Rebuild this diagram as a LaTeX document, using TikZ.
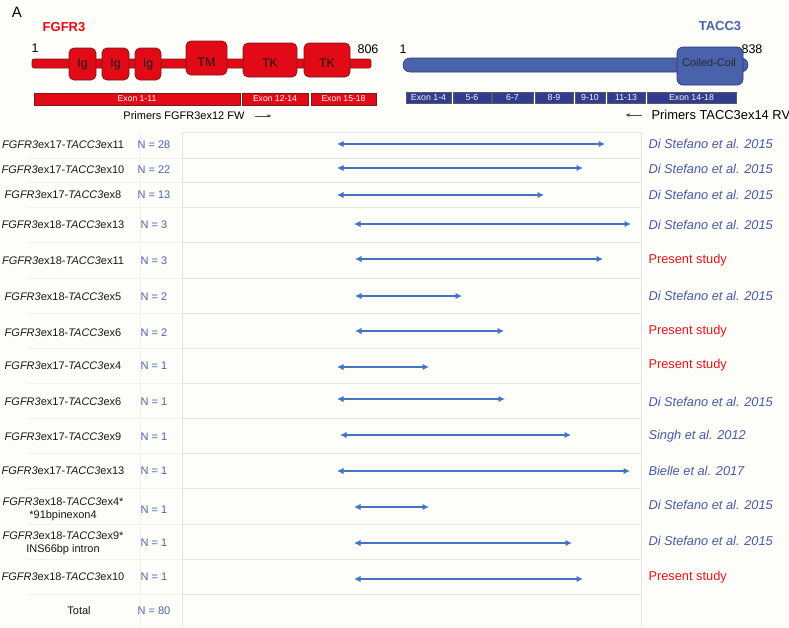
\documentclass[tikz,border=0pt]{standalone}
\usepackage{fontspec}
\setmainfont{Liberation Sans}
\usepackage{tikz}
\usetikzlibrary{arrows.meta}

\definecolor{fgred}{HTML}{E30A17}
\definecolor{fgedge}{HTML}{7A1A1A}
\definecolor{taccblue}{HTML}{4A62AC}
\definecolor{taccedge}{HTML}{2B3A6E}
\definecolor{exonblue}{HTML}{2F3C8F}
\definecolor{arrowblue}{HTML}{4472C4}
\definecolor{nblue}{HTML}{4D63B0}
\definecolor{refblue}{HTML}{4A59A6}
\definecolor{studyred}{HTML}{E8141C}
\definecolor{gridline}{HTML}{E4E4E0}
\definecolor{gridfaint}{HTML}{F1F1ED}
\definecolor{paper}{HTML}{FDFDF9}

\newcommand{\fgfr}{\textit{FGFR3}}
\newcommand{\tacc}{\textit{TACC3}}

\begin{document}
\begin{tikzpicture}[x=1pt,y=-1pt,
  dom/.style={draw=fgedge,fill=fgred,line width=0.7pt,rounded corners=5},
  domlab/.style={font=\fontsize{12.5}{14}\selectfont,text=black!90},
  fgexon/.style={draw=fgedge,fill=fgred,line width=0.5pt,text=white,minimum height=12,inner sep=0pt,font=\fontsize{8.6}{9}\selectfont},
  taccexon/.style={draw=gray!70!black,fill=exonblue,line width=0.5pt,text=white!92!gray,minimum height=11,inner sep=0pt,font=\fontsize{8.8}{9}\selectfont},
  gene/.style={font=\fontsize{13}{15}\selectfont\bfseries},
  endlab/.style={font=\fontsize{12.5}{14}\selectfont},
  primarrow/.style={draw=gray!60!black,line width=0.9pt,-{Latex[length=4.5pt,width=3.5pt]}},
  rowlab/.style={font=\fontsize{11}{13}\selectfont,align=center,text=black!90},
  nlab/.style={font=\fontsize{11}{13}\selectfont,text=nblue},
  reflab/.style={anchor=west,font=\fontsize{12.8}{15}\selectfont\itshape,text=refblue},
  studylab/.style={anchor=west,font=\fontsize{12.8}{15}\selectfont,text=studyred},
  fusion/.style={draw=arrowblue,line width=2.1pt,>={Latex[length=6.5pt,width=6.5pt]},<->}]
\useasboundingbox (0,0) rectangle (789,627);
\fill[paper] (0,0) rectangle (789,627);

\draw[gridfaint] (140,132) -- (140,627);
\draw[gridfaint] (27,158) -- (182,158) (27,182) -- (182,182) (27,207) -- (182,207) (27,242) -- (182,242) (27,278) -- (182,278) (27,313) -- (182,313) (27,348) -- (182,348) (27,383) -- (182,383) (27,418) -- (182,418) (27,453) -- (182,453) (27,488) -- (182,488) (27,524) -- (182,524) (27,559) -- (182,559) (27,594) -- (182,594);
\draw[gridline] (182,132) -- (641,132) (182,158) -- (641,158) (182,182) -- (641,182) (182,207) -- (641,207) (182,242) -- (641,242) (182,278) -- (641,278) (182,313) -- (641,313) (182,348) -- (641,348) (182,383) -- (641,383) (182,418) -- (641,418) (182,453) -- (641,453) (182,488) -- (641,488) (182,524) -- (641,524) (182,559) -- (641,559) (182,594) -- (641,594);
\draw[gridline,line width=0.8pt] (182,132) -- (182,627) (641,132) -- (641,627);

\node[font=\fontsize{15}{17}\selectfont] (panel) at (17,12) {A};
\node[gene,text=fgred] (fgfr) at (64,27) {FGFR3};
\node[gene,text=taccblue] (tacc) at (720,26) {TACC3};

\draw[draw=fgedge,fill=fgred,line width=0.6pt,rounded corners=2] (32,59) rectangle (371,68);
\draw[dom] (69,48) rectangle (96,80);
\node[domlab] (ig1) at (82.5,64) {Ig};
\draw[dom] (102,48) rectangle (129,80);
\node[domlab] (ig2) at (115.5,64) {Ig};
\draw[dom] (135,48) rectangle (161,80);
\node[domlab] (ig3) at (148,64) {Ig};
\draw[dom] (186,41) rectangle (227,75);
\node[domlab] (tm) at (206.5,62) {TM};
\draw[dom] (243,43) rectangle (297,77);
\node[domlab] (tk1) at (270,63) {TK};
\draw[dom] (304,43) rectangle (350,77);
\node[domlab] (tk2) at (327,63) {TK};
\node[endlab] (fstart) at (35,48) {1};
\node[endlab] (fend) at (368,49) {806};

\node[fgexon,minimum width=206] (fex1) at (137,99) {Exon 1-11};
\node[fgexon,minimum width=66] (fex2) at (275,99) {Exon 12-14};
\node[fgexon,minimum width=65] (fex3) at (343.5,99) {Exon 15-18};

\node[font=\fontsize{11}{13}\selectfont] (fw) at (184,116) {Primers FGFR3ex12 FW};
\coordinate (fwa) at (255,116);
\coordinate (fwb) at (272,116);
\draw[primarrow] (fwa) -- (fwb);

\draw[draw=taccedge,fill=taccblue,line width=0.6pt,rounded corners=7] (403,58) rectangle (748,72);
\node[endlab] (tstart) at (403,49) {1};
\node[endlab] (tend) at (752,49) {838};
\draw[draw=taccedge,fill=taccblue,line width=0.7pt,rounded corners=6] (677,47) rectangle (743,85);
\node[font=\fontsize{11}{13}\selectfont,text=black!85] (cc) at (709,63) {Coiled-Coil};

\node[taccexon,minimum width=45] (tex1) at (428.5,97.5) {Exon 1-4};
\node[taccexon,minimum width=38] (tex2) at (472,97.5) {5-6};
\node[taccexon,minimum width=41] (tex3) at (512.5,97.5) {6-7};
\node[taccexon,minimum width=38] (tex4) at (554,97.5) {8-9};
\node[taccexon,minimum width=30] (tex5) at (590,97.5) {9-10};
\node[taccexon,minimum width=38] (tex6) at (626,97.5) {11-13};
\node[taccexon,minimum width=89] (tex7) at (691.5,97.5) {Exon 14-18};

\node[anchor=west,font=\fontsize{12.9}{15}\selectfont] (rv) at (648,115) {Primers TACC3ex14 RV};
\coordinate (rva) at (642,115);
\coordinate (rvb) at (625,115);
\draw[primarrow] (rva) -- (rvb);

\node[rowlab] (r1) at (63,145) {\fgfr{}ex17-\tacc{}ex11};
\node[nlab] (n1) at (154,145) {N = 28};
\coordinate (a1) at (337,144); \coordinate (b1) at (605,144);
\draw[fusion] (a1) -- (b1);
\node[reflab] (s1) at (645,144) {Di Stefano et al. 2015};

\node[rowlab] (r2) at (63,170) {\fgfr{}ex17-\tacc{}ex10};
\node[nlab] (n2) at (154,170) {N = 22};
\coordinate (a2) at (337,168); \coordinate (b2) at (583,168);
\draw[fusion] (a2) -- (b2);
\node[reflab] (s2) at (645,169) {Di Stefano et al. 2015};

\node[rowlab] (r3) at (63,195) {\fgfr{}ex17-\tacc{}ex8};
\node[nlab] (n3) at (154,195) {N = 13};
\coordinate (a3) at (337,195); \coordinate (b3) at (544,195);
\draw[fusion] (a3) -- (b3);
\node[reflab] (s3) at (645,195) {Di Stefano et al. 2015};

\node[rowlab] (r4) at (63,225) {\fgfr{}ex18-\tacc{}ex13};
\node[nlab] (n4) at (154,225) {N = 3};
\coordinate (a4) at (354,224); \coordinate (b4) at (631,224);
\draw[fusion] (a4) -- (b4);
\node[reflab] (s4) at (645,225) {Di Stefano et al. 2015};

\node[rowlab] (r5) at (63,261) {\fgfr{}ex18-\tacc{}ex11};
\node[nlab] (n5) at (154,261) {N = 3};
\coordinate (a5) at (355,259); \coordinate (b5) at (603,259);
\draw[fusion] (a5) -- (b5);
\node[studylab] (s5) at (645,260) {Present study};

\node[rowlab] (r6) at (63,297) {\fgfr{}ex18-\tacc{}ex5};
\node[nlab] (n6) at (154,297) {N = 2};
\coordinate (a6) at (355,296); \coordinate (b6) at (462,296);
\draw[fusion] (a6) -- (b6);
\node[reflab] (s6) at (645,296) {Di Stefano et al. 2015};

\node[rowlab] (r7) at (63,333) {\fgfr{}ex18-\tacc{}ex6};
\node[nlab] (n7) at (154,333) {N = 2};
\coordinate (a7) at (355,331); \coordinate (b7) at (504,331);
\draw[fusion] (a7) -- (b7);
\node[studylab] (s7) at (645,331) {Present study};

\node[rowlab] (r8) at (63,366) {\fgfr{}ex17-\tacc{}ex4};
\node[nlab] (n8) at (154,366) {N = 1};
\coordinate (a8) at (337,367); \coordinate (b8) at (429,367);
\draw[fusion] (a8) -- (b8);
\node[studylab] (s8) at (645,365) {Present study};

\node[rowlab] (r9) at (63,402) {\fgfr{}ex17-\tacc{}ex6};
\node[nlab] (n9) at (154,402) {N = 1};
\coordinate (a9) at (337,399); \coordinate (b9) at (505,399);
\draw[fusion] (a9) -- (b9);
\node[reflab] (s9) at (645,402) {Di Stefano et al. 2015};

\node[rowlab] (r10) at (63,437) {\fgfr{}ex17-\tacc{}ex9};
\node[nlab] (n10) at (154,437) {N = 1};
\coordinate (a10) at (340,435); \coordinate (b10) at (571,435);
\draw[fusion] (a10) -- (b10);
\node[reflab] (s10) at (645,436) {Singh et al. 2012};

\node[rowlab] (r11) at (63,471) {\fgfr{}ex17-\tacc{}ex13};
\node[nlab] (n11) at (154,471) {N = 1};
\coordinate (a11) at (337,471); \coordinate (b11) at (630,471);
\draw[fusion] (a11) -- (b11);
\node[reflab] (s11) at (645,471) {Bielle et al. 2017};

\node[rowlab] (r12) at (63,509.5) {\fgfr{}ex18-\tacc{}ex4*\\{}*91bpinexon4};
\node[nlab] (n12) at (154,510) {N = 1};
\coordinate (a12) at (354,507); \coordinate (b12) at (429,507);
\draw[fusion] (a12) -- (b12);
\node[reflab] (s12) at (645,505) {Di Stefano et al. 2015};

\node[rowlab] (r13) at (63,543.5) {\fgfr{}ex18-\tacc{}ex9*\\INS66bp intron};
\node[nlab] (n13) at (154,543) {N = 1};
\coordinate (a13) at (354,543); \coordinate (b13) at (572,543);
\draw[fusion] (a13) -- (b13);
\node[reflab] (s13) at (645,541) {Di Stefano et al. 2015};

\node[rowlab] (r14) at (63,577) {\fgfr{}ex18-\tacc{}ex10};
\node[nlab] (n14) at (154,577) {N = 1};
\coordinate (a14) at (354,579); \coordinate (b14) at (583,579);
\draw[fusion] (a14) -- (b14);
\node[studylab] (s14) at (645,577) {Present study};

\node[rowlab] (total) at (79,611) {Total};
\node[nlab] (ntotal) at (154,611) {N = 80};
\end{tikzpicture}
\end{document}
